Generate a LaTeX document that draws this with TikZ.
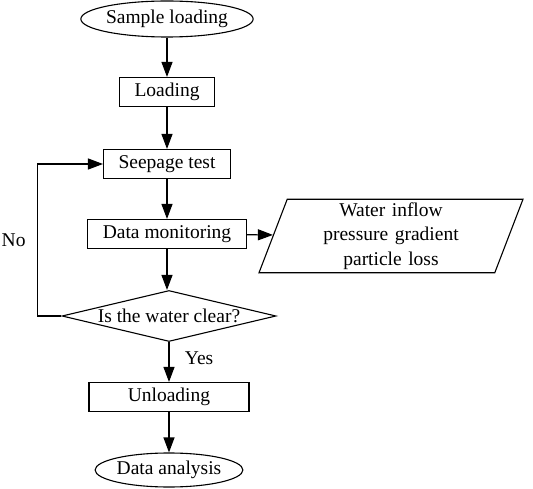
\documentclass[tikz,border=0pt]{standalone}
\usepackage{fontspec}
\setmainfont{Liberation Serif}
\usetikzlibrary{shapes.geometric,arrows.meta}
\tikzstyle{terminal} = [ellipse, draw, inner sep=0pt]
\tikzstyle{block} = [rectangle, draw, 
    text centered, minimum height=29pt, inner xsep=15pt]
\tikzstyle{decision} = [diamond, draw, aspect=4.2, inner sep=0pt,
    minimum width=214pt, minimum height=51pt]
\tikzstyle{io} = [trapezium, draw, trapezium left angle=69, trapezium right angle=111,
    trapezium stretches body, minimum width=264pt, minimum height=73pt,
    text width=180pt, align=center]
\tikzstyle{line} = [draw, -{Triangle[length=15pt,width=11pt]}]

\begin{document}
\begin{tikzpicture}[font=\fontsize{19.5}{24.5}\selectfont, line width=1.1pt]
      \node [terminal, minimum width=147pt, minimum height=36pt] (sample) {Sample loading};
      \useasboundingbox (-167pt,19pt) rectangle (366pt,-470pt);
      \node [block, below of=sample, node distance=73pt] (loading) {Loading};
      \node [block, below of=loading, node distance=72pt] (seepage) {Seepage test};
      \node [block, below of=seepage, node distance=70pt] (monitor) {Data monitoring};
      \node [io, right of=monitor, node distance=224pt, yshift=-2pt] (record)
         {Water inflow\\pressure gradient\\particle loss};
      \node [decision, below of=monitor, node distance=82pt, xshift=2pt] (clear)
         {Is the water clear?};
      \node [block, below of=clear, node distance=81pt, minimum width=160pt] (unloading)
         {Unloading};
      \node [terminal, below of=unloading, node distance=73pt, minimum width=128pt,
         minimum height=34pt] (analysis) {Data analysis};

      \path [line] (sample) -- (loading);
      \path [line] (loading) -- (seepage);
      \path [line] (seepage) -- (monitor);
      \path [line] (monitor) -- (record);
      \path [line] (monitor) -- (monitor |- clear.north);
      \path [line] (clear) -- node [right=12pt, pos=0.4] {Yes} (unloading);
      \path [line] (clear.west) -- ++(-24pt,0) |- node [left=8pt, pos=0.25] {No} (seepage.west);
      \path [line] (unloading) -- (analysis);
   \end{tikzpicture}
\end{document}
